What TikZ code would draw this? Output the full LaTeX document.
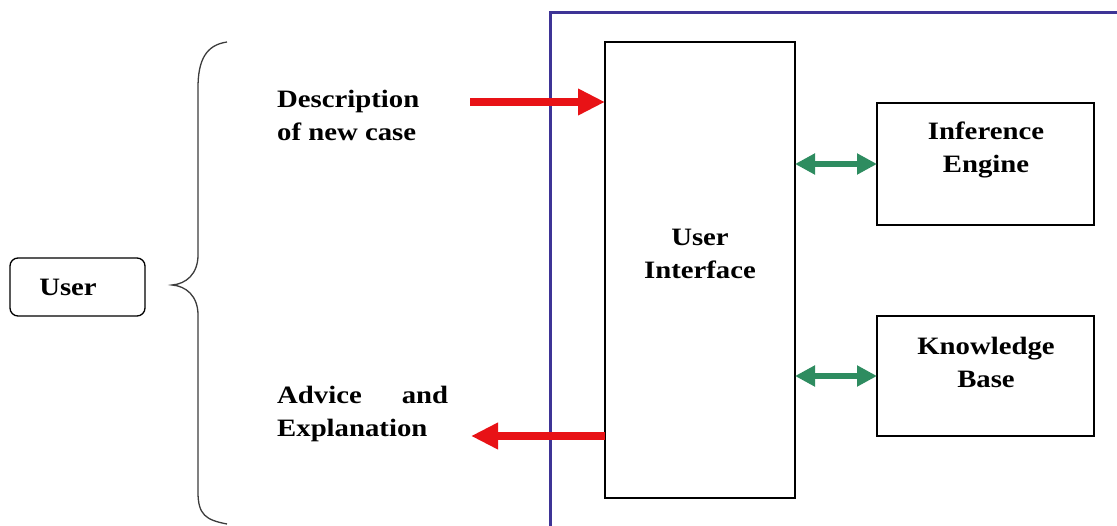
\documentclass[tikz,border=0pt]{standalone}
\usepackage{fontspec}
\setmainfont{Liberation Serif}[FakeStretch=1.15]
\usetikzlibrary{arrows.meta}
\definecolor{framec}{RGB}{62,52,150}
\definecolor{redc}{RGB}{232,18,22}
\definecolor{greenc}{RGB}{46,140,96}
\definecolor{bracec}{RGB}{60,60,60}
\tikzset{
  lbl/.style={font=\fontsize{25}{33}\selectfont\bfseries, inner sep=0pt, align=center},
  box/.style={draw, line width=1.5pt, inner sep=0pt, outer sep=0pt},
  redarrow/.style={draw=redc, line width=8pt, -{Triangle[length=27pt,width=25pt]}},
  greenarrow/.style={draw=greenc, line width=6pt, {Triangle[length=20pt,width=20pt]}-{Triangle[length=20pt,width=20pt]}},
}
\begin{document}
\begin{tikzpicture}[x=1pt,y=-1pt]
\useasboundingbox (0,0) rectangle (1117,526);
\clip (0,0) rectangle (1117,526);
% outer frame
\node (frame) [draw=framec, line width=3pt, outer sep=0pt, inner sep=0pt, anchor=north west, minimum width=620pt, minimum height=560pt] at (550,13) {};
% boxes
\node (user) [box, rounded corners=8pt, line width=1.3pt, minimum width=135pt, minimum height=58pt] at (77.5,287) {};
\node (ui) [box, minimum width=190pt, minimum height=456pt] at (700,270) {};
\node (ie) [box, minimum width=217pt, minimum height=122pt] at (985.5,164) {};
\node (kb) [box, minimum width=217pt, minimum height=120pt] at (985.5,376) {};
% labels
\node (userlbl) [lbl, anchor=base] at (68,296) {User};
\node (uilbl) [lbl, anchor=base] at (700,279) {User\\Interface};
\node (ielbl) [lbl, anchor=base] at (986,173) {Inference\\Engine};
\node (kblbl) [lbl, anchor=base] at (986,388) {Knowledge\\Base};
\node (desc) [lbl, align=left, anchor=base west] at (277,141) {Description\\of new case};
\node (adv) [lbl, align=left, text width=171pt, anchor=base west] at (277,404) {Advice\hfill and\\Explanation};
% brace
\draw[bracec, line width=1.3pt] (227,42) .. controls (206,45) and (198,60) .. (198,88) -- (198,255)
  .. controls (198,274) and (186,284) .. (172,285)
  .. controls (186,286) and (198,296) .. (198,315) -- (198,492)
  .. controls (198,515) and (206,520) .. (227,524);
% arrows
\coordinate (din) at (470,102);
\coordinate (aout) at (471,436);
\draw[redarrow] (din) -- (din -| ui.west);
\draw[redarrow] (aout -| ui.west) -- (aout);
\draw[greenarrow] (ui.east |- ie.west) -- (ie.west);
\draw[greenarrow] (ui.east |- kb.west) -- (kb.west);
\end{tikzpicture}
\end{document}
